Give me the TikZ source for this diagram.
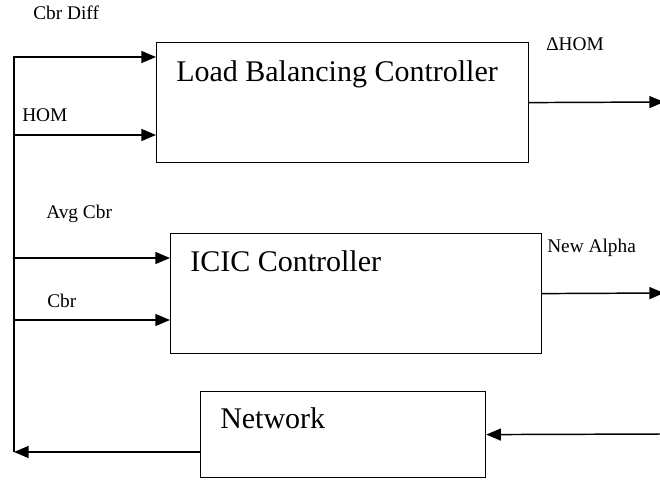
\documentclass[tikz,border=0pt]{standalone}
\usepackage{fontspec}
\setmainfont{Liberation Serif}
\usetikzlibrary{arrows.meta}
\begin{document}
\begin{tikzpicture}[x=0.75pt, y=-0.75pt,
    block/.style={draw, line width=0.9pt, anchor=north west, inner sep=0pt},
    sig/.style={line width=1.1pt, -{Triangle[length=11pt, width=9pt]}},
    big/.style={anchor=base west, inner sep=0pt, font=\fontsize{22.5}{26}\selectfont},
    small/.style={anchor=base west, inner sep=0pt, font=\fontsize{14.5}{17}\selectfont}]
    \useasboundingbox (0,0) rectangle (660,481);
    \node [block, minimum width=279pt, minimum height=90pt] (lb) at (156,42) {};
    \node [block, minimum width=278.25pt, minimum height=90pt] (icic) at (170,233) {};
    \node [block, minimum width=213.75pt, minimum height=64.5pt] (net) at (200,391) {};
    \node [big] (lbtext) at (176,82) {Load Balancing Controller};
    \node [big] (icictext) at (190,271) {ICIC Controller};
    \node [big] (nettext) at (220,428) {Network};
    \node [small] (cbrdiff) at (33,20) {Cbr Diff};
    \node [small] (hom) at (22,122) {HOM};
    \node [small] (avgcbr) at (46,218) {Avg Cbr};
    \node [small] (cbr) at (47,307) {Cbr};
    \node [small] (dhom) at (546,51) {ΔHOM};
    \node [small] (alpha) at (547,252) {New Alpha};
    \coordinate (busTop) at (14,57);
    \coordinate (busBot) at (14,452);
    \coordinate (homIn) at (14,135);
    \coordinate (avgIn) at (14,258);
    \coordinate (cbrIn) at (14,320);
    \coordinate (lbOut) at (664,102);
    \coordinate (alphaOut) at (664,293);
    \coordinate (netIn) at (662,434);
    \draw [sig] (busBot) -- (busTop) -- (busTop -| lb.west);
    \draw [sig] (homIn) -- (homIn -| lb.west);
    \draw [sig] (avgIn) -- (avgIn -| icic.west);
    \draw [sig] (cbrIn) -- (cbrIn -| icic.west);
    \draw [sig] (lb.east) -- (lbOut);
    \draw [sig] (icic.east) -- (alphaOut);
    \draw [sig] (netIn) -- (net.east);
    \draw [sig] (net.west |- busBot) -- (busBot);
\end{tikzpicture}
\end{document}
